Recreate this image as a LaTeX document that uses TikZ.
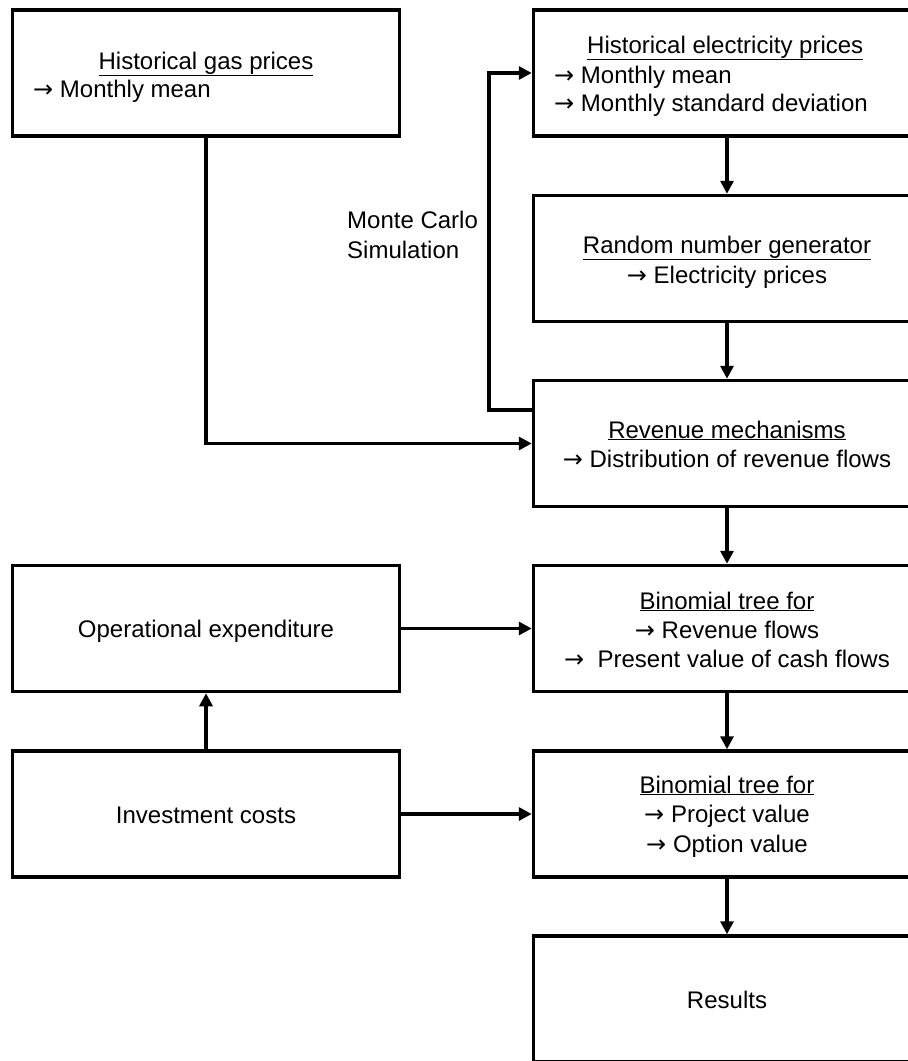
\documentclass[tikz,border=0pt]{standalone}
\usepackage{fontspec}
\setmainfont{Liberation Sans}
\newfontfamily\arrowfont{DejaVu Sans}
\newcommand\myarr{{\arrowfont →}}
\usetikzlibrary{arrows.meta}
\begin{document}
\begin{tikzpicture}[x=1pt,y=-1pt,
  box/.style={draw=black, line width=3.5pt, minimum width=387pt, minimum height=126pt, inner sep=0pt},
  txt/.style={inner sep=0pt, font=\fontsize{24}{28}\selectfont},
  conn/.style={line width=3.5pt, -{Triangle[length=13pt,width=13pt]}},
  plainline/.style={line width=3.5pt}]
\useasboundingbox (0,0) rectangle (908,1061);
\clip (0,0) rectangle (908,1061);
% boxes
\node[box] (gas)  at (206,73) {};
\node[box] (elec) at (727,73) {};
\node[box] (rand) at (727,258.5) {};
\node[box] (rev)  at (727,443.5) {};
\node[box] (opex) at (206,628.5) {};
\node[box] (bin1) at (727,628.5) {};
\node[box] (inv)  at (206,814) {};
\node[box] (bin2) at (727,814) {};
\node[box] (res)  at (727,999) {};
% texts
\node[txt, anchor=base] (gasT) at (206,69) {\underline{Historical gas prices}};
\node[txt, anchor=base west] (gasA) at (33,97) {\myarr\ Monthly mean};
\node[txt, anchor=base west] (elecT) at (587,53) {\underline{Historical electricity prices}};
\node[txt, anchor=base west] (elecA) at (554,83) {\myarr\ Monthly mean};
\node[txt, anchor=base west] (elecB) at (554,111) {\myarr\ Monthly standard deviation};
\node[txt, anchor=base] (randT) at (727,253) {\underline{Random number generator}};
\node[txt, anchor=base] (randA) at (727,283) {\myarr\ Electricity prices};
\node[txt, anchor=base] (revT) at (727,438) {\underline{Revenue mechanisms}};
\node[txt, anchor=base] (revA) at (727,467) {\myarr\ Distribution of revenue flows};
\node[txt, anchor=base] (opexT) at (206,637) {Operational expenditure};
\node[txt, anchor=base] (bin1T) at (727,609) {\underline{Binomial tree for}};
\node[txt, anchor=base] (bin1A) at (727,638) {\myarr\ Revenue flows};
\node[txt, anchor=base] (bin1B) at (727,667) {\myarr\ \ Present value of cash flows};
\node[txt, anchor=base] (invT) at (206,823) {Investment costs};
\node[txt, anchor=base] (bin2T) at (727,793) {\underline{Binomial tree for}};
\node[txt, anchor=base] (bin2A) at (727,822) {\myarr\ Project value};
\node[txt, anchor=base] (bin2B) at (727,852) {\myarr\ Option value};
\node[txt, anchor=base] (resT) at (727,1008) {Results};
\node[txt, anchor=base west] (mc1) at (347,228) {Monte Carlo};
\node[txt, anchor=base west] (mc2) at (347,258) {Simulation};
% connectors
\coordinate (fb) at (489,410);
\draw[conn] (gas.south) |- (rev.west);
\draw[conn] (rev.west |- fb) -- (fb) |- (elec.west);
\draw[conn] (elec.south) -- (rand.north);
\draw[conn] (rand.south) -- (rev.north);
\draw[conn] (rev.south) -- (bin1.north);
\draw[conn] (bin1.south) -- (bin2.north);
\draw[conn] (bin2.south) -- (res.north);
\draw[conn] (opex.east) -- (bin1.west);
\draw[conn] (inv.east) -- (bin2.west);
\draw[conn] (inv.north) -- (opex.south);
\end{tikzpicture}
\end{document}
